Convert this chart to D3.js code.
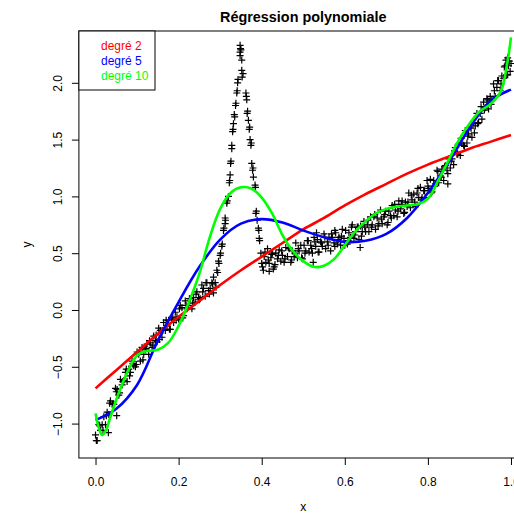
<!DOCTYPE html>
<html>
<head>
<meta charset="utf-8">
<script src="https://cdn.jsdelivr.net/npm/d3@7"></script>
<style>
  body { margin: 0; background: #fff; }
  svg text { font-family: "Liberation Sans", Arial, Helvetica, sans-serif; }
</style>
</head>
<body>
<div id="chart"></div>
<script>
const ptsRise = [
  [0.000,-1.10],[0.002,-1.15],[0.004,-1.15],[0.008,-1.01],[0.010,-1.02],[0.012,-1.06],[0.016,-1.01],[0.018,-1.06],
  [0.020,-0.94],[0.024,-1.01],[0.026,-0.93],[0.028,-0.90],[0.031,-1.08],[0.032,-0.92],[0.034,-0.82],[0.036,-0.80],
  [0.040,-0.83],[0.042,-0.83],[0.044,-0.83],[0.048,-0.69],[0.050,-0.72],[0.051,-0.93],[0.052,-0.70],[0.056,-0.75],
  [0.058,-0.73],[0.060,-0.61],[0.064,-0.66],[0.066,-0.63],[0.068,-0.62],[0.072,-0.55],[0.074,-0.52],[0.076,-0.63],
  [0.080,-0.52],[0.082,-0.58],[0.084,-0.55],[0.088,-0.45],[0.090,-0.47],[0.092,-0.49],[0.096,-0.50],[0.098,-0.48],
  [0.100,-0.37],[0.104,-0.39],[0.106,-0.37],[0.108,-0.45],[0.112,-0.33],[0.114,-0.44],[0.116,-0.39],[0.120,-0.35],
  [0.122,-0.34],[0.124,-0.30],[0.128,-0.39],[0.130,-0.27],[0.132,-0.29],[0.136,-0.33],[0.138,-0.31],[0.140,-0.23],
  [0.144,-0.27],[0.146,-0.22],[0.148,-0.28],[0.152,-0.16],[0.154,-0.26],[0.156,-0.18],[0.160,-0.24],[0.162,-0.18],
  [0.164,-0.11],[0.168,-0.18],[0.170,-0.09],[0.172,-0.14],[0.176,-0.09],[0.178,-0.17],[0.180,-0.17],[0.184,-0.08],
  [0.186,-0.07],[0.188,-0.11],[0.192,-0.02],[0.194,-0.09],[0.196,-0.06],[0.200,-0.08],[0.202,0.01],[0.204,0.04],
  [0.208,0.02],[0.210,-0.07],[0.212,-0.05],[0.216,0.08],[0.218,0.04],[0.220,0.01],[0.224,0.04],[0.226,0.10],
  [0.228,0.10],[0.232,0.01],[0.234,0.06],[0.236,0.11],[0.240,0.07],[0.242,0.14],[0.244,0.16],[0.248,0.11],
  [0.250,0.09],[0.252,0.10],[0.256,0.22],[0.258,0.16],[0.260,0.19],[0.264,0.12],[0.266,0.24],[0.268,0.24],
  [0.272,0.17],[0.274,0.14],[0.276,0.19],[0.280,0.24],[0.282,0.23],[0.284,0.15],[0.288,0.24],[0.290,0.20]
];

const ptsPeak = [
  [0.284,0.29],[0.292,0.35],[0.294,0.33],[0.296,0.43],[0.297,0.41],[0.300,0.48],[0.301,0.50],[0.304,0.56],
  [0.305,0.58],[0.308,0.70],[0.309,0.72],[0.312,0.76],[0.312,0.81],[0.313,0.79],[0.316,0.94],[0.317,0.96],
  [0.320,1.00],[0.322,1.12],[0.323,1.14],[0.324,1.19],[0.325,1.29],[0.326,1.31],[0.328,1.42],[0.328,1.45],
  [0.330,1.57],[0.331,1.59],[0.332,1.64],[0.334,1.72],[0.335,1.70],[0.337,1.80],[0.338,1.82],[0.340,1.91],
  [0.341,1.93],[0.342,2.00],[0.343,2.03],[0.348,2.24],[0.348,2.27],[0.349,2.30],[0.348,2.33],[0.350,2.29],
  [0.352,2.20],[0.352,2.11],[0.353,2.05],[0.355,2.08],[0.362,1.91],[0.364,1.85],[0.363,1.88],[0.365,1.73],
  [0.366,1.75],[0.368,1.67],[0.370,1.59],[0.371,1.61],[0.372,1.50],[0.374,1.45],[0.375,1.47],[0.376,1.29],
  [0.378,1.23],[0.379,1.25],[0.380,1.17],[0.384,1.10],[0.385,1.08],[0.386,0.85],[0.387,0.87],[0.389,0.79],
  [0.392,0.72],[0.393,0.70],[0.394,0.63],[0.395,0.61]
];

const ptsPlateau = [
  [0.398,0.50],[0.402,0.38],[0.406,0.47],[0.410,0.42],[0.414,0.54],[0.418,0.41],[0.422,0.46],[0.426,0.50],
  [0.430,0.38],[0.434,0.50],[0.438,0.45],[0.442,0.53],[0.446,0.43],[0.450,0.48],[0.454,0.42],[0.458,0.55],
  [0.462,0.47],[0.466,0.54],[0.470,0.42],[0.474,0.52],[0.478,0.47],[0.482,0.59],[0.486,0.46],[0.490,0.52],
  [0.494,0.57],[0.498,0.45],[0.502,0.57],[0.506,0.52],[0.510,0.61],[0.514,0.51],[0.518,0.57],[0.522,0.50],
  [0.526,0.64],[0.530,0.56],[0.534,0.62],[0.538,0.51],[0.542,0.60],[0.546,0.56],[0.550,0.67],[0.554,0.54],
  [0.558,0.60],[0.562,0.64],[0.566,0.52],[0.570,0.64],[0.574,0.59],[0.578,0.68],[0.582,0.58],[0.586,0.64],
  [0.590,0.57],[0.594,0.71],[0.598,0.63],[0.602,0.70],[0.606,0.58],[0.610,0.68],[0.614,0.64],[0.618,0.75],
  [0.622,0.63],[0.626,0.69],[0.630,0.73],[0.634,0.62],[0.638,0.74],[0.642,0.69],[0.646,0.78],[0.650,0.69],
  [0.654,0.75],[0.658,0.69],[0.662,0.82],[0.666,0.75],[0.670,0.82],[0.674,0.71],[0.678,0.81],[0.682,0.76],
  [0.686,0.88],[0.690,0.76],[0.694,0.82],[0.698,0.87],
  [0.400,0.41],[0.408,0.51],[0.416,0.44],[0.424,0.49],[0.432,0.40],[0.440,0.48],[0.448,0.52],[0.456,0.45],
  [0.464,0.55],[0.472,0.44],[0.480,0.50],[0.488,0.54],[0.496,0.46],[0.504,0.50],[0.512,0.61],[0.520,0.54],
  [0.528,0.60],[0.536,0.51],[0.544,0.59],[0.552,0.64],[0.560,0.57],[0.568,0.67],[0.576,0.56],[0.584,0.62],
  [0.592,0.65],[0.600,0.57],[0.608,0.61],[0.616,0.73],[0.624,0.66],[0.632,0.73],[0.640,0.65],[0.648,0.73],
  [0.656,0.79],[0.664,0.73],[0.672,0.84],[0.680,0.74],[0.688,0.80],[0.696,0.84],
  [0.404,0.35],[0.418,0.34],[0.428,0.36],[0.524,0.42],[0.532,0.68],[0.576,0.70],[0.637,0.55]
];

const ptsClimb = [
  [0.702,0.75],[0.706,0.87],[0.710,0.83],[0.714,0.92],[0.718,0.83],[0.722,0.88],[0.726,0.82],[0.730,0.96],
  [0.734,0.89],[0.738,0.96],[0.742,0.85],[0.746,0.95],[0.750,0.91],[0.754,1.03],[0.758,0.90],[0.762,0.97],
  [0.766,1.02],[0.770,0.91],[0.774,1.03],[0.778,0.99],[0.782,1.08],[0.786,0.99],[0.790,1.05],[0.794,0.99],
  [0.798,1.14],[0.802,1.07],[0.806,1.15],[0.810,1.04],[0.814,1.14],[0.818,1.11],[0.822,1.23],[0.826,1.12],
  [0.830,1.18],[0.834,1.24],[0.838,1.14],[0.842,1.27],[0.846,1.23],[0.850,1.33],[0.854,1.25],[0.858,1.33],
  [0.862,1.28],[0.866,1.43],[0.870,1.37],[0.874,1.46],[0.878,1.36],[0.882,1.47],[0.886,1.45],[0.890,1.58],
  [0.894,1.47],[0.898,1.55],[0.902,1.61],[0.906,1.52],[0.910,1.65],[0.914,1.62],[0.918,1.73],[0.922,1.65],
  [0.926,1.73],[0.930,1.68],[0.934,1.83],[0.938,1.78],[0.942,1.86],[0.946,1.77],[0.950,1.88],[0.954,1.85],
  [0.958,1.99],[0.962,1.88],[0.966,1.96],[0.970,2.02],[0.974,1.93],[0.978,2.06],[0.982,2.04],[0.986,2.15],
  [0.990,2.07],[0.994,2.15],[0.998,2.10],
  [0.704,0.77],[0.712,0.81],[0.720,0.93],[0.728,0.87],[0.736,0.93],[0.744,0.86],[0.752,0.95],[0.760,1.01],
  [0.768,0.95],[0.776,1.07],[0.784,0.97],[0.792,1.05],[0.800,1.09],[0.808,1.03],[0.816,1.09],[0.824,1.22],
  [0.832,1.17],[0.840,1.26],[0.848,1.20],[0.856,1.31],[0.864,1.40],[0.872,1.37],[0.880,1.51],[0.888,1.44],
  [0.896,1.53],[0.904,1.60],[0.912,1.56],[0.920,1.64],[0.928,1.79],[0.936,1.76],[0.944,1.85],[0.952,1.81],
  [0.960,1.93],[0.968,2.02],[0.976,1.99],[0.984,2.14],[0.992,2.07],[1.000,2.17],
  [0.848,1.11],[0.988,2.20],[0.992,2.22],[0.996,2.19]
];

// fitted curves
const fitX = [0,0.05,0.1,0.15,0.2,0.25,0.3,0.35,0.4,0.45,0.5,0.55,0.6,0.65,0.7,0.75,0.8,0.85,0.9,0.95,1];
const fitDeg2 = [-0.69,-0.53,-0.37,-0.21,-0.06,0.08,0.22,0.35,0.47,0.59,0.71,0.81,0.92,1.02,1.11,1.20,1.28,1.35,1.42,1.48,1.54];
const fitDeg5 = [-0.97,-0.87,-0.66,-0.27,0.07,0.38,0.62,0.76,0.80,0.77,0.70,0.64,0.60,0.61,0.67,0.81,1.03,1.30,1.60,1.84,1.94];
const fitX10 = [0,0.008,0.016,0.025,0.035,0.05,0.075,0.1,0.125,0.15,0.175,0.2,0.225,0.25,0.275,0.3,0.325,0.35,0.375,
  0.4,0.425,0.45,0.475,0.5,0.525,0.55,0.575,0.6,0.625,0.65,0.675,0.7,0.725,0.75,0.775,0.8,0.825,0.85,0.875,0.9,
  0.925,0.95,0.975,0.99,1];
const fitDeg10 = [-0.91,-1.04,-1.10,-1.06,-0.95,-0.79,-0.56,-0.40,-0.36,-0.35,-0.29,-0.14,0.07,0.32,0.64,0.89,1.03,1.08,1.07,
  0.99,0.85,0.66,0.52,0.43,0.38,0.39,0.45,0.57,0.69,0.78,0.85,0.89,0.91,0.92,0.93,0.98,1.14,1.32,1.50,1.64,
  1.75,1.81,1.92,2.15,2.40];

const xTicks = [0, 0.2, 0.4, 0.6, 0.8, 1.0];
const yTicks = [-1, -0.5, 0, 0.5, 1, 1.5, 2];
const legendLabels = ["degré 2", "degré 5", "degré 10"];
const legendColors = ["#FF0000", "#0000FF", "#00FF00"];

function draw() {
  const width = 514, height = 514;
  const left = 78.9, right = 527.6, top = 31, bottom = 458;

  const points = ptsRise.concat(ptsPeak, ptsPlateau, ptsClimb);

  const svg = d3.select("#chart").append("svg")
    .attr("width", width)
    .attr("height", height);

  const x = d3.scaleLinear().domain([-0.04, 1.04]).range([left, right]);
  const y = d3.scaleLinear().domain([-1.303, 2.456]).range([bottom, top]);

  // points
  svg.selectAll(".pt")
    .data(points)
    .enter()
    .append("path")
    .attr("class", "pt")
    .attr("d", "M-3.5,0H3.5M0,-3.5V3.5")
    .attr("transform", d => `translate(${x(d[0])},${y(d[1])})`)
    .attr("stroke", "#000")
    .attr("stroke-width", 1.2)
    .attr("fill", "none");

  const line = d3.line()
    .x(d => x(d[0]))
    .y(d => y(d[1]))
    .curve(d3.curveCatmullRom.alpha(0.5));

  const fits = [
    { xs: fitX, ys: fitDeg2, color: legendColors[0] },
    { xs: fitX, ys: fitDeg5, color: legendColors[1] },
    { xs: fitX10, ys: fitDeg10, color: legendColors[2] }
  ];

  svg.selectAll(".fit")
    .data(fits)
    .enter()
    .append("path")
    .attr("class", "fit")
    .attr("d", f => line(f.xs.map((v, i) => [v, f.ys[i]])))
    .attr("fill", "none")
    .attr("stroke", f => f.color)
    .attr("stroke-width", 2.6);

  // box
  svg.append("rect")
    .attr("x", left).attr("y", top)
    .attr("width", right - left).attr("height", bottom - top)
    .attr("fill", "none").attr("stroke", "#000").attr("stroke-width", 1);

  const xAxis = svg.append("g")
    .attr("transform", `translate(0,${bottom})`)
    .call(d3.axisBottom(x).tickValues(xTicks).tickSize(7).tickPadding(12).tickFormat(d3.format(".1f")));
  xAxis.select(".domain").remove();
  xAxis.selectAll("text").attr("font-size", 12).attr("font-family", null).attr("fill", "#000");

  const yAxis = svg.append("g")
    .attr("transform", `translate(${left},0)`)
    .call(d3.axisLeft(y).tickValues(yTicks).tickSize(7).tickFormat(d3.format(".1f")));
  yAxis.select(".domain").remove();
  yAxis.selectAll("text")
    .attr("x", 0).attr("dy", 0)
    .attr("text-anchor", "middle")
    .attr("transform", "translate(-17,0) rotate(-90)")
    .attr("font-size", 12).attr("font-family", null).attr("fill", "#000");

  svg.selectAll(".tick line").attr("stroke", "#000");

  // titles
  svg.append("text")
    .attr("x", (left + right) / 2).attr("y", 22)
    .attr("text-anchor", "middle")
    .attr("font-size", 14.4).attr("font-weight", "bold")
    .text("Régression polynomiale");

  svg.append("text")
    .attr("x", (left + right) / 2).attr("y", 511)
    .attr("text-anchor", "middle")
    .attr("font-size", 12)
    .text("x");

  svg.append("text")
    .attr("transform", `translate(31,${(top + bottom) / 2}) rotate(-90)`)
    .attr("text-anchor", "middle")
    .attr("font-size", 12)
    .text("y");

  // legend
  svg.append("rect")
    .attr("x", left).attr("y", top)
    .attr("width", 155 - left).attr("height", 59)
    .attr("fill", "#fff").attr("stroke", "#000").attr("stroke-width", 1);

  svg.selectAll(".leg")
    .data(legendLabels)
    .enter()
    .append("text")
    .attr("class", "leg")
    .attr("x", 101)
    .attr("y", (d, i) => 50 + i * 15)
    .attr("font-size", 12)
    .attr("fill", (d, i) => legendColors[i])
    .text(d => d);
}

draw();
</script>
</body>
</html>
